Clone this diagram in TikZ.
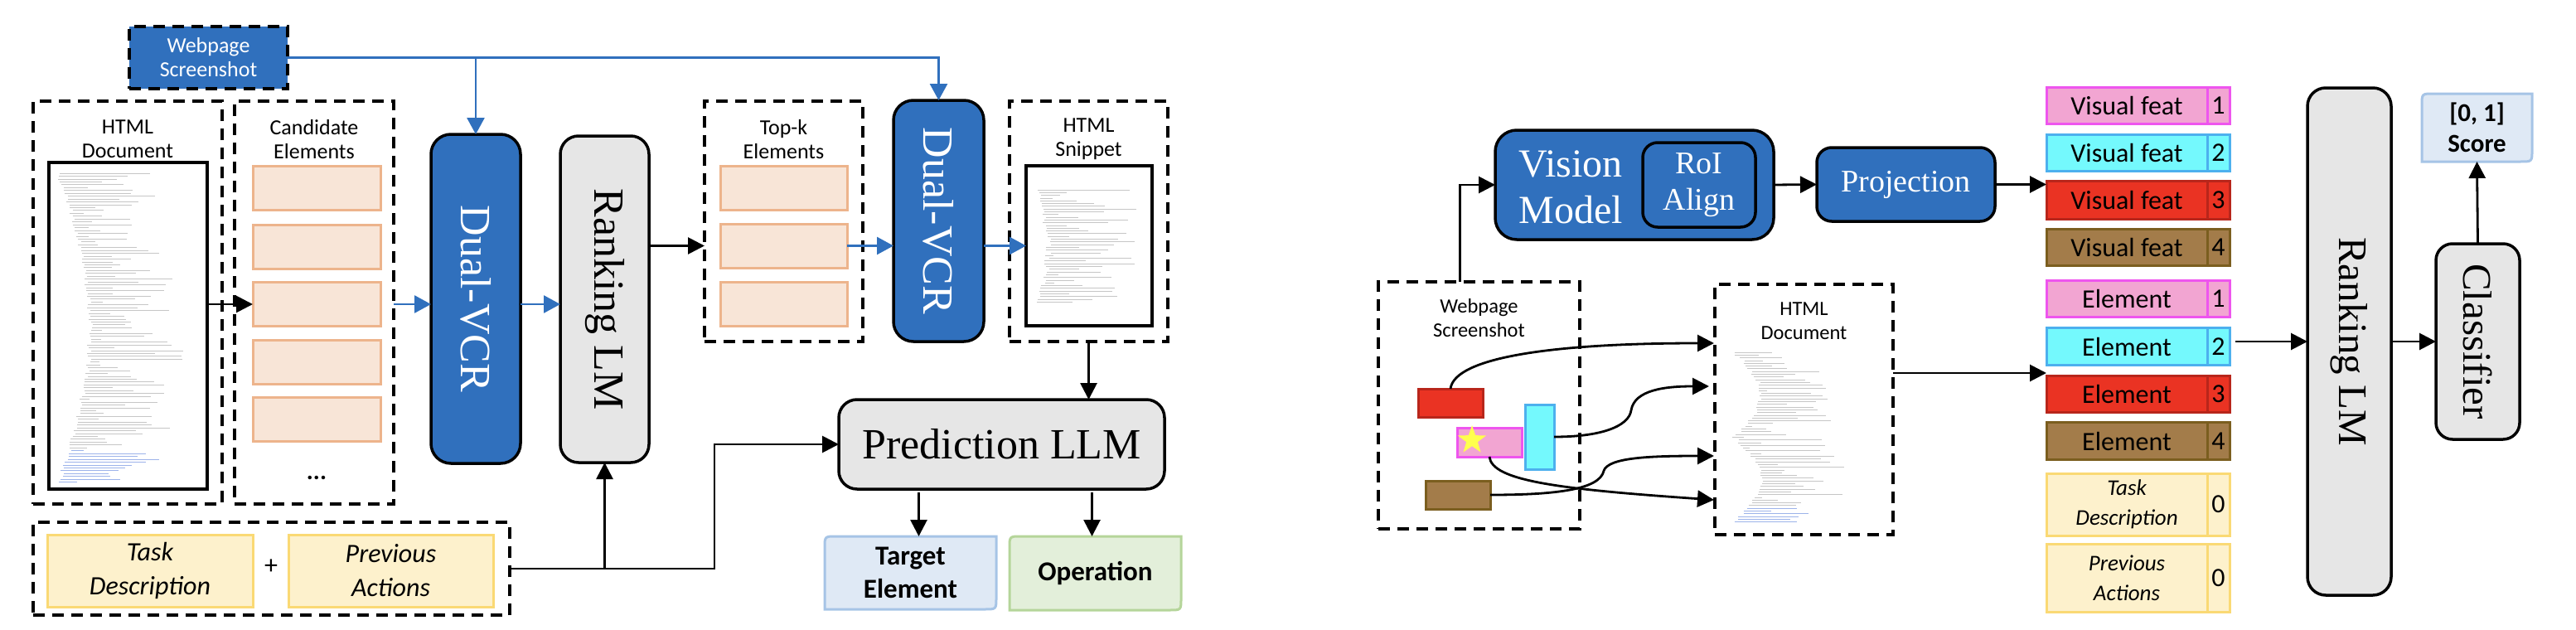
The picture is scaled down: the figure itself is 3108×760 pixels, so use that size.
\documentclass[tikz,border=0pt]{standalone}
\usepackage{fontspec}
\usepackage{graphicx}
\setmainfont{Carlito}
\newfontfamily\serifTNR{Liberation Serif}
\usetikzlibrary{arrows.meta,shapes.geometric,calc}
\definecolor{vblue}{HTML}{3070BD}
\definecolor{lgray}{HTML}{E6E6E6}
\definecolor{peachF}{HTML}{F8E5D7}
\definecolor{peachD}{HTML}{EDB48C}
\definecolor{yelF}{HTML}{FDF1CC}
\definecolor{yelD}{HTML}{FAD974}
\definecolor{lbF}{HTML}{DFE9F5}
\definecolor{lbD}{HTML}{A6C4E6}
\definecolor{lgF}{HTML}{E3EFDA}
\definecolor{lgD}{HTML}{B5D59A}
\definecolor{pinkF}{HTML}{F2A5D2}
\definecolor{pinkD}{HTML}{EE55EE}
\definecolor{cyanF}{HTML}{74F9FD}
\definecolor{cyanD}{HTML}{4DB0EE}
\definecolor{redF}{HTML}{EA3323}
\definecolor{redD}{HTML}{B8261B}
\definecolor{brnF}{HTML}{A37C4A}
\definecolor{brnD}{HTML}{7B5E1F}
\definecolor{starY}{HTML}{FFFF4D}
\definecolor{codeG}{HTML}{C6C6C6}
\definecolor{codeB}{HTML}{9DB3EA}
% diagonal-rounded box: rounded top-left and bottom-right corners
\newcommand\dgbox[3]{%
  \draw[line width=3pt, draw=#3, fill=#2]
    (#1.south west) -- ($(#1.north west)+(0,14)$)
    .. controls (#1.north west) .. ($(#1.north west)+(14,0)$)
    -- (#1.north east) -- ($(#1.south east)+(0,-14)$)
    .. controls (#1.south east) .. ($(#1.south east)+(-14,0)$) -- cycle;}
% one row of the token stack
\newcommand\strow[8]{%
  \node[cell, fill=#4, draw=#5, minimum width=194pt, minimum height=#3, #8] (#1) at (2566,#2) {#6};
  \node[cell, fill=#4, draw=#5, minimum width=27pt, minimum height=#3] (#1n) at (2676.5,#2) {#7};}
\begin{document}
\begin{tikzpicture}[x=1pt,y=-1pt,
  box/.style={rectangle, inner sep=0pt, outer sep=0pt},
  dbox/.style={box, draw=black, line width=3.2pt, dash pattern=on 14pt off 9pt},
  model/.style={box, draw=black, line width=3.5pt, rounded corners=#1},
  model/.default=22pt,
  docbox/.style={box, draw=black, line width=3.2pt},
  pbox/.style={box, fill=peachF, draw=peachD, line width=3pt, minimum width=154pt, minimum height=53pt},
  ybox/.style={box, fill=yelF, draw=yelD, line width=3pt, align=center},
  rbox/.style={box, line width=3pt},
  cell/.style={box, line width=3pt, align=center, font=\fontsize{32}{38}\selectfont},
  lbl/.style={align=center, font=\fontsize{26}{29}\selectfont},
  lbltwo/.style={align=center, font=\fontsize{24.5}{29}\selectfont},
  bigserif/.style={font=\serifTNR\fontsize{52}{60}\selectfont},
  arrB/.style={line width=2.8pt, draw=black, -{Triangle[length=20pt,width=20pt]}},
  arrU/.style={line width=2.8pt, draw=vblue, -{Triangle[length=20pt,width=21pt]}},
  codeln/.style={line width=0.8pt}
]
\useasboundingbox (0,0) rectangle (3108,760);

%================ LEFT PART ================
\node[dbox, fill=vblue, text=white, minimum width=191pt, minimum height=75pt, lbl] (wsL) at (251.5,69.5) {Webpage\\Screenshot};

\node[dbox, minimum width=228pt, minimum height=486pt] (docLbox) at (154,365) {};
\node[docbox, minimum width=191pt, minimum height=394pt] (docL) at (154.5,393) {};
\node[lbl] (docLt) at (154,168) {HTML\\Document};
\pgfmathsetseed{11}
\foreach \i in {0,...,108}{
  \pgfmathsetmacro\yy{209+3.45*\i}
  \pgfmathsetmacro\ind{68+38*sin(\i/108*180)+6*rnd}
  \pgfmathsetmacro\len{min(10+105*rnd,243-\ind)}
  \ifnum\i>96 \def\cc{codeB}\else\def\cc{codeG}\fi
  \draw[codeln,draw=\cc] (\ind,\yy) -- ++(\len,0);
}

\node[dbox, minimum width=192pt, minimum height=486pt] (candbox) at (379,365) {};
\node[lbl] (candt) at (379,168) {Candidate\\Elements};
\foreach \k/\yy in {1/226.5,2/297.5,3/367,4/437,5/506}
  \node[pbox] (cand\k) at (382,\yy) {};
\node[anchor=base, font=\bfseries\fontsize{30}{30}\selectfont] (dots) at (382,578) {...};

\node[model=24pt, fill=vblue, text=white, minimum width=108pt, minimum height=397pt, bigserif] (dvcr1) at (574,360.5) {\rotatebox{-90}{Dual-VCR}};
\node[model=22pt, fill=lgray, minimum width=107pt, minimum height=394pt, bigserif] (rlmL) at (729.5,361) {\rotatebox{-90}{Ranking LM}};

\node[dbox, minimum width=191pt, minimum height=290pt] (topkbox) at (945.5,267) {};
\node[lbl] (topkt) at (945.5,168) {Top-k\\Elements};
\foreach \k/\yy in {1/226.5,2/296.5,3/367}
  \node[pbox, minimum width=153pt] (topk\k) at (945.5,\yy) {};

\node[model=24pt, fill=vblue, text=white, minimum width=109pt, minimum height=291pt, bigserif] (dvcr2) at (1132.5,266.5) {\rotatebox{-90}{Dual-VCR}};

\node[dbox, minimum width=191pt, minimum height=290pt] (snipbox) at (1313.5,267) {};
\node[lbl] (snipt) at (1313.5,168) {HTML\\Snippet};
\node[docbox, minimum width=152pt, minimum height=193pt] (snip) at (1314,296.5) {};
\foreach \i in {0,...,41}{
  \pgfmathsetmacro\yy{229+3.3*\i}
  \pgfmathsetmacro\ind{1247+14*sin(\i/41*180)+8*rnd}
  \pgfmathsetmacro\len{min(10+110*rnd,1384-\ind)}
  \draw[codeln,draw=codeG] (\ind,\yy) -- ++(\len,0);
}

\node[model=22pt, fill=lgray, minimum width=393pt, minimum height=108pt, bigserif] (pred) at (1208.5,536) {Prediction LLM};

\node[dbox, minimum width=575pt, minimum height=112pt] (taskbox) at (327.5,686) {};
\node[ybox, minimum width=248pt, minimum height=87pt, font=\itshape\fontsize{32}{41}\selectfont] (taskL) at (181,688.5) {Task\\Description};
\node[ybox, minimum width=247pt, minimum height=87pt, font=\itshape\fontsize{32}{41}\selectfont] (prevL) at (471.5,688.5) {Previous\\Actions};
\node[font=\fontsize{32}{32}\selectfont] (plus) at (327,684) {+};

\node[box, minimum width=207pt, minimum height=88pt] (tgt) at (1098.5,691) {};
\dgbox{tgt}{lbF}{lbD}
\node[align=center, font=\bfseries\fontsize{33}{40}\selectfont] (tgtt) at (tgt) {Target\\Element};
\node[box, minimum width=207pt, minimum height=89pt] (op) at (1321.5,691.5) {};
\dgbox{op}{lgF}{lgD}
\node[font=\bfseries\fontsize{33}{40}\selectfont] (opt) at (op) {Operation};

% left connectors
\draw[arrU] (wsL.east) -| (dvcr2.north);
\draw[arrU] (dvcr1.north |- wsL.east) -- (dvcr1.north);
\draw[arrB] (docL.east |- cand3) -- (cand3.west);
\draw[arrU] (candbox.east |- cand3) -- (dvcr1.west |- cand3);
\draw[arrU] (dvcr1.east |- cand3) -- (rlmL.west |- cand3);
\draw[arrB] (rlmL.east |- topk2) -- (topkbox.west |- topk2);
\draw[arrU] (topk2.east) -- (dvcr2.west |- topk2);
\draw[arrU] (dvcr2.east |- topk2) -- (snip.west |- topk2);
\draw[arrB] (snipbox.south) -- (snipbox.south |- pred.north);
\coordinate (jn) at (862,686);
\draw[arrB] (taskbox.east) -- (jn) |- (pred.west);
\draw[arrB] (rlmL.south |- taskbox.east) -- (rlmL.south);
\draw[arrB] ($(tgt.north |- pred.south)+(10,4)$) -- ($(tgt.north)+(10,0)$);
\draw[arrB] ($(op.north |- pred.south)+(-4,4)$) -- ($(op.north)+(-4,0)$);

%================ RIGHT PART ================
\node[dbox, minimum width=243pt, minimum height=298pt] (wsR) at (1784.5,489) {};
\node[lbltwo] (wsRt) at (1784.5,383.5) {Webpage\\Screenshot};
\node[rbox, fill=redF, draw=redD, minimum width=78pt, minimum height=34pt] (red) at (1750,486) {};
\node[rbox, fill=pinkF, draw=pinkD, minimum width=78pt, minimum height=35pt] (pink) at (1797,533.5) {};
\node[star, star points=5, star point ratio=2.5, fill=starY, minimum size=36pt, inner sep=0pt] (star) at (1776,531) {};
\node[rbox, fill=cyanF, draw=cyanD, minimum width=35pt, minimum height=78pt] (cyan) at (1857.5,527) {};
\node[rbox, fill=brnF, draw=brnD, minimum width=78pt, minimum height=34pt] (brown) at (1759,597) {};

\node[dbox, minimum width=215pt, minimum height=302pt] (docR) at (2176.5,494) {};
\node[lbltwo] (docRt) at (2176.5,387) {HTML\\Document};
\foreach \i in {0,...,62}{
  \pgfmathsetmacro\yy{425+3.3*\i}
  \pgfmathsetmacro\ind{2090+32*abs(sin(\i/62*360))+5*rnd}
  \pgfmathsetmacro\len{min(8+95*rnd,2260-\ind)}
  \ifnum\i>56 \def\cc{codeB}\else\def\cc{codeG}\fi
  \draw[codeln,draw=\cc] (\ind,\yy) -- ++(\len,0);
}

\node[model=26pt, fill=vblue, minimum width=336pt, minimum height=132pt] (vis) at (1972,223) {};
\node[text=white, align=center, font=\serifTNR\fontsize{48}{56}\selectfont] (vist) at (1895,226) {Vision\\Model};
\node[model=18pt, fill=vblue, text=white, minimum width=136pt, minimum height=102pt, align=center, font=\serifTNR\fontsize{38}{44}\selectfont] (roi) at (2050,223) {RoI\\Align};
\node[model=18pt, fill=vblue, text=white, minimum width=215pt, minimum height=89pt, font=\serifTNR\fontsize{38}{44}\selectfont] (proj) at (2299.5,222.5) {Projection};

\strow{vf1}{127.4}{44.4pt}{pinkF}{pinkD}{Visual feat}{1}{}
\strow{vf2}{184.2}{44.3pt}{cyanF}{cyanD}{Visual feat}{2}{}
\strow{vf3}{241.4}{45.2pt}{redF}{redD}{Visual feat}{3}{}
\strow{vf4}{298.6}{44.4pt}{brnF}{brnD}{Visual feat}{4}{}
\strow{el1}{360.6}{44.3pt}{pinkF}{pinkD}{Element}{1}{}
\strow{el2}{418.2}{44.5pt}{cyanF}{cyanD}{Element}{2}{}
\strow{el3}{475.5}{44.4pt}{redF}{redD}{Element}{3}{}
\strow{el4}{532.2}{44.5pt}{brnF}{brnD}{Element}{4}{}
\strow{tk}{608.5}{75pt}{yelF}{yelD}{Task\\Description}{0}{font=\itshape\fontsize{27}{36}\selectfont}
\strow{pa}{697.5}{82pt}{yelF}{yelD}{Previous\\Actions}{0}{font=\itshape\fontsize{27}{36}\selectfont}

\node[model=22pt, fill=lgray, minimum width=101pt, minimum height=612pt, font=\serifTNR\fontsize{49}{56}\selectfont] (rlmR) at (2834.5,412) {\rotatebox{-90}{Ranking LM}};
\node[model=20pt, fill=lgray, minimum width=101pt, minimum height=236pt, font=\serifTNR\fontsize{49}{56}\selectfont] (cls) at (2989.5,412) {\rotatebox{-90}{Classifier}};
\node[box, minimum width=133pt, minimum height=82pt] (score) at (2988.5,154) {};
\dgbox{score}{lbF}{lbD}
\node[align=center, font=\bfseries\fontsize{31}{37}\selectfont] (scoret) at (score) {[0, 1]\\Score};

% right connectors
\draw[arrB] ($(wsR.north)+(-23,0)$) |- (vis.west);
\draw[arrB] (vis.east) -- (proj.west);
\draw[arrB] (proj.east) -- (vf3.west |- proj.east);
\coordinate (dRo) at ($(docR.east)+(0,-44)$);
\draw[arrB] (dRo) -- (el3.west |- dRo);
\draw[arrB] ($(el2n.east |- rlmR.west)+(7,0)$) -- (rlmR.west);
\draw[arrB] (rlmR.east) -- (cls.west);
\draw[arrB] (cls.north) -- (score.south);

\coordinate (c1) at (2068,414);
\coordinate (c2) at (2062,466);
\coordinate (c3) at (2068,550);
\coordinate (c4) at (2068,603);
\draw[arrB] (red.north) .. controls (1755,430) and (1880,414) .. (c1);
\draw[arrB] (cyan.east) .. controls (1930,527) and (1965,515) .. (1968,495) .. controls (1972,470) and (2010,466) .. (c2);
\draw[arrB] (brown.east) .. controls (1880,597) and (1930,590) .. (1935,568) .. controls (1940,552) and (1990,550) .. (c3);
\draw[arrB] (pink.south) .. controls (1800,580) and (1880,590) .. (c4);
\end{tikzpicture}
\end{document}
